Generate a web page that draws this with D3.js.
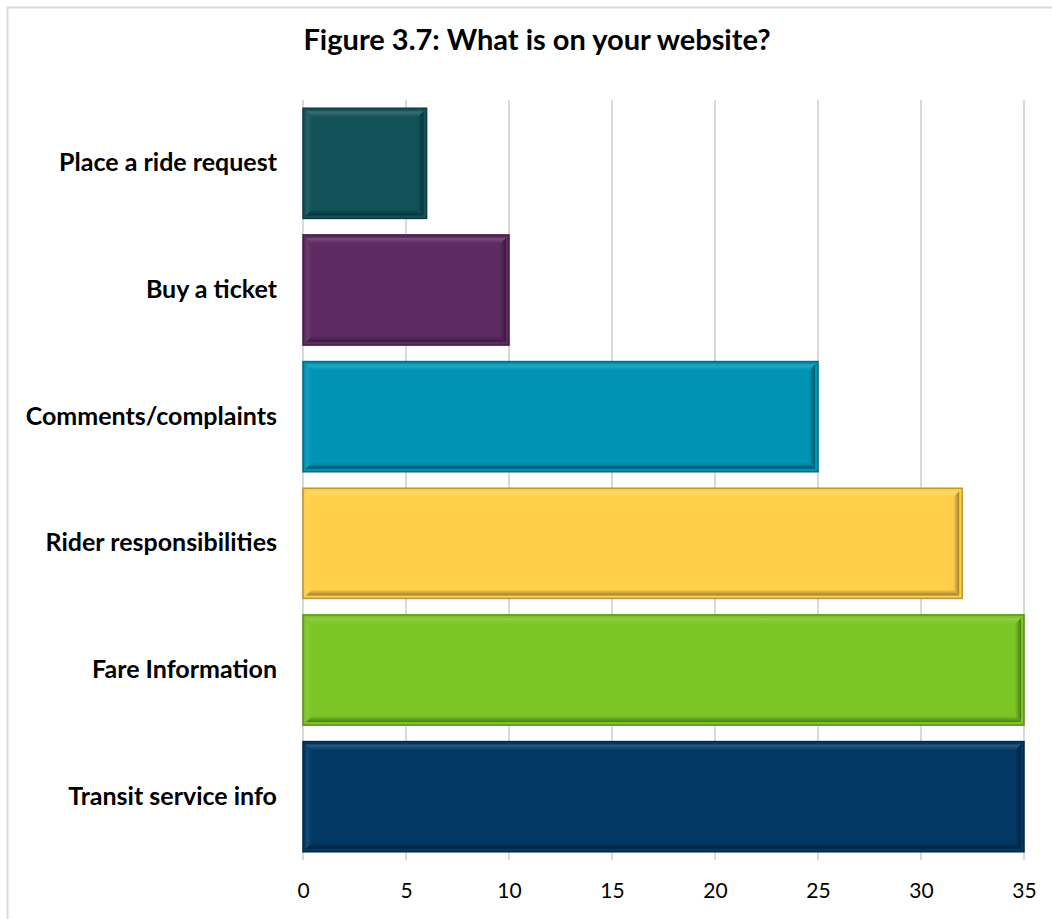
<!DOCTYPE html>
<html>
<head>
<meta charset="utf-8">
<script src="https://cdn.jsdelivr.net/npm/d3@7"></script>
<style>
  html, body { margin: 0; padding: 0; background: #ffffff; }
  svg { display: block; }
</style>
</head>
<body>
<svg id="chart" width="1052" height="919"></svg>
<script>
// Survey responses: features offered on agency websites
const categories = [
  "Place a ride request",
  "Buy a ticket",
  "Comments/complaints",
  "Rider responsibilities",
  "Fare Information",
  "Transit service info"
];
const counts = [6, 10, 25, 32, 35, 35];
const barColors = ["#135259", "#5d2a62", "#0093b4", "#ffcf4a", "#7bc525", "#023864"];
const tickValues = [0, 5, 10, 15, 20, 25, 30, 35];
const titleText = "Figure 3.7: What is on your website?";

const svg = d3.select("#chart");
const plot = { left: 303, right: 1024, top: 100, bottom: 860 };
const fontFamily = "Lato, 'Open Sans', sans-serif";

const x = d3.scaleLinear().domain([0, 35]).range([plot.left, plot.right]);
const y = d3.scaleBand().domain(categories).range([plot.top, plot.bottom]).paddingInner(0.13).paddingOuter(0.065);

// Outer chart frame
svg.append("rect")
  .attr("x", 7.5).attr("y", 7.5)
  .attr("width", 1100).attr("height", 1000)
  .attr("fill", "none").attr("stroke", "#d9d9d9").attr("stroke-width", 2);

// Title
svg.append("text")
  .attr("x", 537).attr("y", 50)
  .attr("text-anchor", "middle")
  .attr("font-family", fontFamily)
  .attr("font-weight", "bold")
  .attr("font-size", 29)
  .attr("fill", "#000")
  .text(titleText);

// Vertical gridlines (including the category axis at 0)
svg.append("g").selectAll("line")
  .data(tickValues)
  .join("line")
  .attr("x1", d => x(d)).attr("x2", d => x(d))
  .attr("y1", plot.top).attr("y2", plot.bottom)
  .attr("stroke", "#d9d9d9").attr("stroke-width", 1.5)
  .attr("shape-rendering", "crispEdges");

// Value axis tick labels
const xAxis = d3.axisBottom(x).tickValues(tickValues).tickSize(0).tickPadding(0);
const xg = svg.append("g").attr("transform", `translate(0,${plot.bottom})`).call(xAxis);
xg.select(".domain").remove();
xg.selectAll("text")
  .attr("dy", null)
  .attr("y", 38)
  .attr("font-family", fontFamily)
  .attr("font-size", 21)
  .attr("fill", "#000");

// Category labels
const yAxis = d3.axisLeft(y).tickSize(0).tickPadding(26);
const yg = svg.append("g").attr("transform", `translate(${plot.left},0)`).call(yAxis);
yg.select(".domain").remove();
yg.selectAll("text")
  .attr("font-family", fontFamily)
  .attr("font-weight", "bold")
  .attr("font-size", 25)
  .attr("fill", "#000");

// Gradients for the bevelled bar edges
const defs = svg.append("defs");
function grad(id, x1, y1, x2, y2, c1, c2) {
  const g = defs.append("linearGradient").attr("id", id)
    .attr("x1", x1).attr("y1", y1).attr("x2", x2).attr("y2", y2);
  g.append("stop").attr("offset", "0%").attr("stop-color", c1);
  g.append("stop").attr("offset", "100%").attr("stop-color", c2);
}
barColors.forEach((c, i) => {
  const base = d3.color(c);
  const light = d3.interpolateRgb(c, "#ffffff")(0.18);
  const dark = base.darker(1.3).formatHex();
  grad(`top${i}`, 0, 0, 0, 1, light, c);
  grad(`left${i}`, 0, 0, 1, 0, d3.interpolateRgb(c, "#ffffff")(0.1), c);
  grad(`right${i}`, 0, 0, 1, 0, c, dark);
  grad(`bottom${i}`, 0, 0, 0, 1, c, dark);
});

const bars = svg.append("g").selectAll("g")
  .data(categories.map((cat, i) => ({ cat, value: counts[i], i })))
  .join("g");

bars.each(function (d) {
  const g = d3.select(this);
  const c = barColors[d.i];
  const x0 = x(0), x1 = x(d.value);
  const y0 = y(d.cat), y1 = y0 + y.bandwidth();
  const edge = d3.color(c).darker(0.9).formatHex();

  g.append("rect")
    .attr("x", x0).attr("y", y0)
    .attr("width", x1 - x0).attr("height", y1 - y0)
    .attr("fill", c).attr("stroke", edge).attr("stroke-width", 1.5);

  // bevel frame, inset from the bar outline
  const ins = 3, b = 6;
  const ox0 = x0 + ins, ox1 = x1 - ins, oy0 = y0 + ins, oy1 = y1 - ins;
  const ix0 = ox0 + b, ix1 = ox1 - b, iy0 = oy0 + b, iy1 = oy1 - b;
  const poly = (pts, fill) => g.append("polygon")
    .attr("points", pts.map(p => p.join(",")).join(" "))
    .attr("fill", fill);
  poly([[ox0, oy0], [ox1, oy0], [ix1, iy0], [ix0, iy0]], `url(#top${d.i})`);
  poly([[ox0, oy0], [ix0, iy0], [ix0, iy1], [ox0, oy1]], `url(#left${d.i})`);
  poly([[ox1, oy0], [ox1, oy1], [ix1, iy1], [ix1, iy0]], `url(#right${d.i})`);
  poly([[ox0, oy1], [ix0, iy1], [ix1, iy1], [ox1, oy1]], `url(#bottom${d.i})`);
});
</script>
</body>
</html>
